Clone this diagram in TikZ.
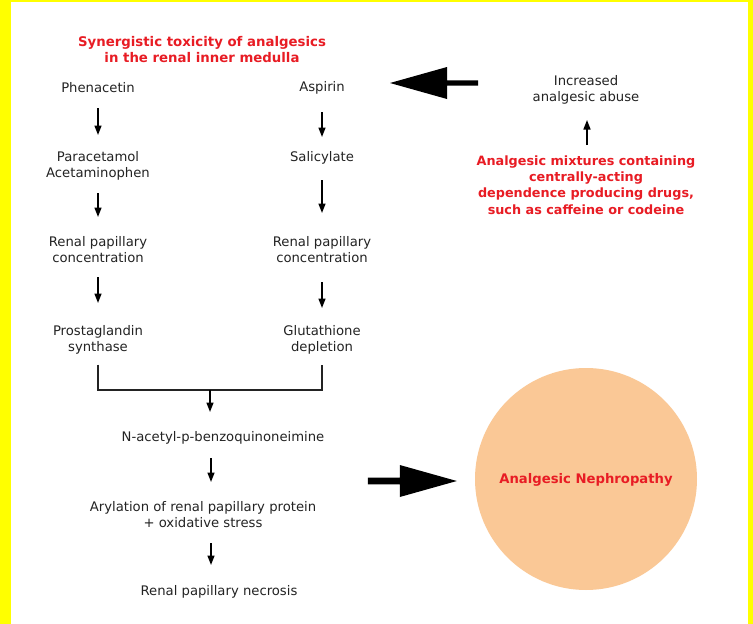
\documentclass[tikz,border=0pt]{standalone}
\usepackage{fontspec}
\setmainfont{DejaVu Sans}
\usetikzlibrary{arrows.meta,calc}
\definecolor{redtxt}{RGB}{232,28,36}
\definecolor{peach}{RGB}{250,200,150}
\definecolor{ink}{RGB}{35,35,35}
\definecolor{frame}{RGB}{255,255,0}
\begin{document}
\begin{tikzpicture}[x=1pt,y=-1pt,
  lbl/.style={font=\fontsize{13.2}{16}\selectfont, text=ink, align=center, inner sep=0pt},
  rlbl/.style={font=\fontsize{12.8}{16.3}\selectfont\bfseries, text=redtxt, align=center, inner sep=0pt},
  sa/.style={-{Triangle[length=9.5pt,width=7pt]}, line width=1.4pt, draw=black},
  bracket/.style={line width=1.2pt, draw=ink}
]
% background and frame
\fill[frame] (0,0) rectangle (753,624);
\fill[white] (11,2) rectangle (748,624);
\useasboundingbox (0,0) rectangle (753,624);

% title
\node[rlbl, font=\fontsize{13.3}{16}\selectfont\bfseries] (title) at (202,50) {Synergistic toxicity of analgesics\\in the renal inner medulla};

% left column
\node[lbl] (phen) at (98,88) {Phenacetin};
\node[lbl] (para) at (98,166) {Paracetamol\\Acetaminophen};
\node[lbl] (ren1) at (98,249.5) {Renal papillary\\concentration};
\node[lbl] (prost) at (98,339.5) {Prostaglandin\\synthase};

% right column
\node[lbl] (asp) at (322,88) {Aspirin};
\node[lbl] (sal) at (322,158) {Salicylate};
\node[lbl] (ren2) at (322,249.5) {Renal papillary\\concentration};
\node[lbl] (glut) at (322,339.5) {Glutathione\\depletion};

% lower chain
\node[lbl] (nac) at (223,438) {N-acetyl-p-benzoquinoneimine};
\node[lbl] (aryl) at (203,514.5) {Arylation of renal papillary protein\\+ oxidative stress};
\node[lbl] (necro) at (219,592) {Renal papillary necrosis};

% right side
\node[lbl] (incr) at (586,90) {Increased\\analgesic abuse};
\node[rlbl] (mix) at (586,185) {Analgesic mixtures containing\\centrally-acting\\dependence producing drugs,\\such as caffeine or codeine};
\node[circle, fill=peach, minimum size=222pt, inner sep=0pt] (circ) at (586,479) {};
\node[rlbl, font=\fontsize{13.2}{16}\selectfont\bfseries] (neph) at (586,480) {Analgesic Nephropathy};

% small arrows, left column
\draw[sa] ([yshift=-20pt]phen.center) -- ([yshift=31pt]para.center);
\draw[sa] ([yshift=-27pt]para.center) -- ([yshift=32.5pt]ren1.center);
\draw[sa] ([yshift=-27.5pt]ren1.center) -- ([yshift=36.5pt]prost.center);
% small arrows, right column
\draw[sa] ([yshift=-24pt]asp.center) -- ([yshift=21pt]sal.center);
\draw[sa] ([yshift=-22pt]sal.center) -- ([yshift=36.5pt]ren2.center);
\draw[sa] ([yshift=-32.5pt]ren2.center) -- ([yshift=31.5pt]glut.center);

% bracket joining the two columns
\draw[bracket] ([yshift=-25pt]prost.center) -- ([yshift=-50.5pt]prost.center)
   -- ([yshift=-50.5pt]glut.center) -- ([yshift=-25pt]glut.center);
\coordinate (join) at ($([yshift=-50.5pt]prost.center)!0.5!([yshift=-50.5pt]glut.center)$);
\draw[sa] (join) -- ([xshift=-13pt,yshift=26pt]nac.center);

% lower chain arrows
\draw[sa] ([xshift=-12pt,yshift=-20pt]nac.center) -- ([xshift=8pt,yshift=32.5pt]aryl.center);
\draw[sa] ([xshift=8pt,yshift=-28.5pt]aryl.center) -- ([xshift=-8pt,yshift=27pt]necro.center);

% up arrow to increased abuse
\draw[sa] ([xshift=1pt,yshift=40pt]mix.center) -- ([xshift=1pt,yshift=-30pt]incr.center);

% big block arrow towards the title / aspirin
\coordinate (tipL) at ([xshift=-196pt,yshift=7pt]incr.center);
\fill[black, shift={(tipL)}] (0,0) -- (57,-16) -- (57,-2.6) -- (88,-2.6) -- (88,2.6) -- (57,2.6) -- (57,16) -- cycle;

% big block arrow towards the circle
\coordinate (tipR) at ([xshift=-18pt,yshift=-2pt]circ.west);
\fill[black, shift={(tipR)}] (0,0) -- (-57,-16) -- (-57,-3.3) -- (-89,-3.3) -- (-89,3.3) -- (-57,3.3) -- (-57,16) -- cycle;
\end{tikzpicture}
\end{document}
